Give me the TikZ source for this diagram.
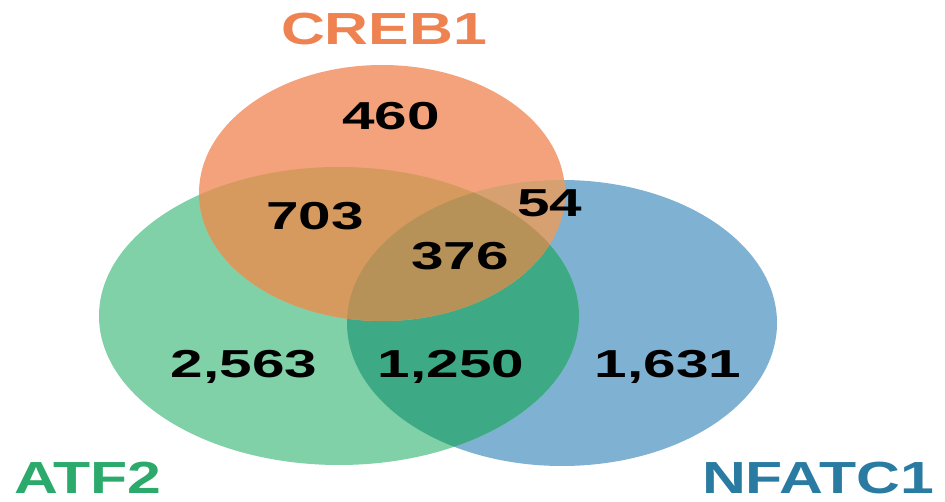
\documentclass[tikz,border=0pt]{standalone}
\usepackage{fontspec}
\setmainfont{Liberation Sans}
\definecolor{creb}{HTML}{F4A27C}
\definecolor{atf}{HTML}{80D0A8}
\definecolor{nfat}{HTML}{7FB1D3}
\definecolor{crebatf}{HTML}{D69A5E}
\definecolor{crebnfat}{HTML}{D6A070}
\definecolor{atfnfat}{HTML}{3DAA85}
\definecolor{allthree}{HTML}{B69258}
\definecolor{crebtxt}{HTML}{EE8250}
\definecolor{atftxt}{HTML}{2BAA6C}
\definecolor{nfattxt}{HTML}{2A7BA2}
\begin{document}
\begin{tikzpicture}[x=1pt, y=-1pt,
    num/.style={font=\bfseries\fontsize{39}{40}\selectfont, xscale=1.5, inner sep=0pt},
    setname/.style={font=\bfseries\fontsize{45}{46}\selectfont, xscale=1.35, inner sep=0pt}]
  \useasboundingbox (0,0) rectangle (945,502);
  \def\crebpath{(382,193) ellipse [x radius=183, y radius=128]}
  \def\atfpath{(339,316) ellipse [x radius=240, y radius=149]}
  \def\nfatpath{(562,323) ellipse [x radius=215, y radius=143]}
  % the three sets
  \fill[nfat] \nfatpath;
  \fill[atf] \atfpath;
  \fill[creb] \crebpath;
  % overlaps
  \begin{scope}
    \clip \atfpath;
    \fill[atfnfat] \nfatpath;
  \end{scope}
  \begin{scope}
    \clip \crebpath;
    \fill[crebnfat] \nfatpath;
    \fill[crebatf] \atfpath;
    \clip \atfpath;
    \fill[allthree] \nfatpath;
  \end{scope}
  % set names
  \node[setname, text=crebtxt] (creb) at (384,29) {CREB1};
  \node[setname, text=atftxt] (atf) at (88,478) {ATF2};
  \node[setname, text=nfattxt] (nfat) at (818,478) {NFATC1};
  % counts
  \node[num] (c) at (391,116) {460};
  \node[num] (ca) at (315,216) {703};
  \node[num] (cn) at (550,203) {54};
  \node[num] (can) at (460,256) {376};
  \node[num] (a) at (244,367) {2,563};
  \node[num] (an) at (451,367) {1,250};
  \node[num] (n) at (668,367) {1,631};
\end{tikzpicture}
\end{document}
